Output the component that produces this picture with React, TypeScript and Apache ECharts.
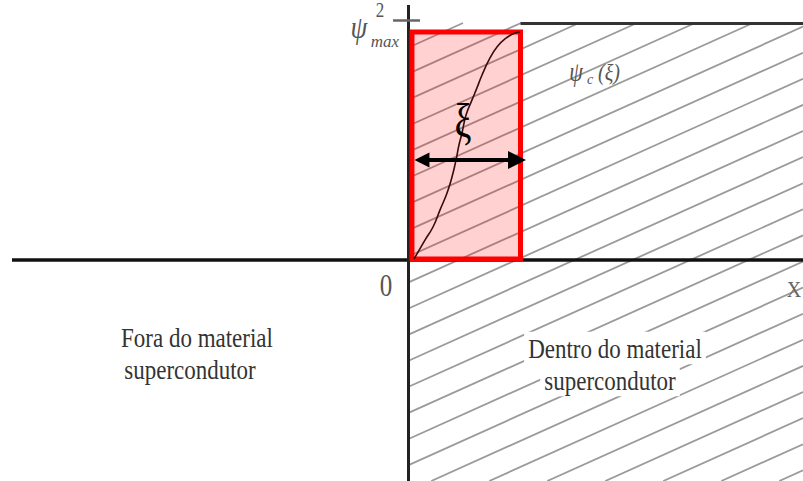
import React, { useEffect, useRef } from "react";
import * as echarts from "echarts";

// ---- coordinate frame: x in units of ξ, y in units of ψ²max ----
const X_MIN = -3.6267;
const X_MAX = 3.5111;
const Y_MIN = -0.9208;
const Y_MAX = 1.0833;

// Order-parameter curve ψ(x) inside the coherence length
const CURVE_X = [0.053, 0.089, 0.151, 0.222, 0.284, 0.347, 0.391, 0.427, 0.453, 0.48, 0.516, 0.569, 0.613, 0.658, 0.729, 0.791, 0.862, 0.951, 0.996];
const CURVE_Y = [0.004, 0.033, 0.083, 0.1375, 0.208, 0.279, 0.346, 0.417, 0.479, 0.529, 0.604, 0.667, 0.717, 0.771, 0.842, 0.8875, 0.921, 0.946, 0.95];

// Plateau of ψ beyond ξ
const PLATEAU_X = [1.0, 3.5111];
const PLATEAU_Y = 0.9875;

// Coherence-length box [x0, y0, x1, y1]
const XI_BOX = [0.035, 0.004, 1.0, 0.95];

// Double arrow marking ξ
const ARROW_X = [0.124, 0.969];
const ARROW_Y = 0.417;

// Axes
const H_AXIS_X = [-3.52, 3.5111];
const V_AXIS_Y = [Y_MIN, 1.0625];
const TICK_X = [-0.133, 0.107];
const TICK_Y = 1.0;

// Hatching of the superconducting region
const HATCH_SLOPE = 0.2109;
const HATCH_SPACING = 0.10875;
const HATCH_PHASE = -0.2031;
const HATCH_REGION = [0, Y_MIN, X_MAX, PLATEAU_Y]; // x0, y0, x1, y1

function hatchSegments() {
  const [hx0, hy0, hx1, hy1] = HATCH_REGION;
  const m = HATCH_SLOPE;
  const cMin = hy0 - m * hx1;
  const cMax = hy1 - m * hx0;
  const kMin = Math.floor((cMin - HATCH_PHASE) / HATCH_SPACING);
  const kMax = Math.ceil((cMax - HATCH_PHASE) / HATCH_SPACING);
  const segs: any[] = [];
  for (let k = kMin; k <= kMax; k++) {
    const c = HATCH_PHASE + k * HATCH_SPACING;
    const xs = Math.max(hx0, (hy0 - c) / m);
    const xe = Math.min(hx1, (hy1 - c) / m);
    if (xs < xe) {
      segs.push({ coords: [[xs, c + m * xs], [xe, c + m * xe]] });
    }
  }
  return segs;
}

const SERIF = "'Liberation Serif', 'Times New Roman', serif";

export default function App() {
  const ref = useRef<HTMLDivElement>(null);
  useEffect(() => {
    const chart = echarts.init(ref.current!, null, { renderer: "svg" });
    const lineSeg = (xa: number[], ya: number[]) => ({ coords: [[xa[0], ya[0]], [xa[1], ya[1]]] });
    const option: any = {
      animation: false,
      backgroundColor: "#ffffff",
      grid: { left: 0, right: 0, top: 0, bottom: 0 },
      xAxis: { type: "value", min: X_MIN, max: X_MAX, show: false },
      yAxis: { type: "value", min: Y_MIN, max: Y_MAX, show: false },
      series: [
        {
          type: "lines",
          coordinateSystem: "cartesian2d",
          silent: true,
          z: 1,
          lineStyle: { color: "#9a9a9a", width: 1.8, opacity: 1 },
          data: hatchSegments(),
        },
        {
          type: "lines",
          coordinateSystem: "cartesian2d",
          silent: true,
          z: 2,
          data: [
            { ...lineSeg(H_AXIS_X, [0, 0]), lineStyle: { color: "#111111", width: 3.5, opacity: 1 } },
            { ...lineSeg([0, 0], V_AXIS_Y), lineStyle: { color: "#222222", width: 3, opacity: 1 } },
            { ...lineSeg(TICK_X, [TICK_Y, TICK_Y]), lineStyle: { color: "#666666", width: 2.5, opacity: 1 } },
            { ...lineSeg(PLATEAU_X, [PLATEAU_Y, PLATEAU_Y]), lineStyle: { color: "#333333", width: 3, opacity: 1 } },
          ],
        },
        {
          type: "custom",
          silent: true,
          z: 3,
          data: [XI_BOX],
          encode: { x: [0, 2], y: [1, 3] },
          renderItem: (_p: any, api: any) => {
            const a = api.coord([api.value(0), api.value(3)]);
            const b = api.coord([api.value(2), api.value(1)]);
            return {
              type: "rect",
              shape: { x: a[0], y: a[1], width: b[0] - a[0], height: b[1] - a[1] },
              style: { fill: "rgba(255,0,0,0.18)", stroke: "#ff0000", lineWidth: 5 },
            };
          },
        },
        {
          type: "line",
          silent: true,
          z: 4,
          showSymbol: false,
          symbol: "none",
          smooth: true,
          lineStyle: { color: "#3a0c0c", width: 1.6 },
          data: CURVE_X.map((x, i) => [x, CURVE_Y[i]]),
        },
        {
          type: "lines",
          coordinateSystem: "cartesian2d",
          silent: true,
          z: 5,
          symbol: ["triangle", "triangle"],
          symbolSize: [15, 18],
          lineStyle: { color: "#000000", width: 4, opacity: 1 },
          itemStyle: { color: "#000000" },
          data: [lineSeg(ARROW_X, [ARROW_Y, ARROW_Y])],
        },
      ],
      graphic: [
        { type: "text", z: 100, x: 463, y: 121, scaleY: 1.3, style: { text: "ξ", fontFamily: SERIF, fontSize: 38, fill: "#000", align: "center", verticalAlign: "middle" } },
        { type: "text", z: 100, x: 359, y: 27, scaleY: 1.2, style: { text: "ψ", fontFamily: SERIF, fontStyle: "italic", fontSize: 27, fill: "#555", align: "center", verticalAlign: "middle" } },
        { type: "text", z: 100, x: 385, y: 41, style: { text: "max", fontFamily: SERIF, fontStyle: "italic", fontSize: 17, fill: "#555", align: "center", verticalAlign: "middle" } },
        { type: "text", z: 100, x: 380, y: 10, scaleY: 1.2, style: { text: "2", fontFamily: SERIF, fontSize: 17, fill: "#555", align: "center", verticalAlign: "middle" } },
        { type: "text", z: 100, x: 576, y: 72, scaleY: 1.2, style: { text: "ψ", fontFamily: SERIF, fontStyle: "italic", fontSize: 22, fill: "#555", align: "center", verticalAlign: "middle" } },
        { type: "text", z: 100, x: 590, y: 79, style: { text: "c", fontFamily: SERIF, fontStyle: "italic", fontSize: 14, fill: "#555", align: "center", verticalAlign: "middle" } },
        { type: "text", z: 100, x: 609, y: 72, scaleY: 1.2, style: { text: "(ξ)", fontFamily: SERIF, fontStyle: "italic", fontSize: 20, fill: "#555", align: "center", verticalAlign: "middle" } },
        { type: "text", z: 100, x: 386, y: 285, scaleY: 1.3, style: { text: "0", fontFamily: SERIF, fontSize: 25, fill: "#555", align: "center", verticalAlign: "middle" } },
        { type: "text", z: 100, x: 794, y: 289, scaleY: 1.2, style: { text: "X", fontFamily: SERIF, fontSize: 20, fill: "#666", align: "center", verticalAlign: "middle" } },
        { type: "text", z: 100, x: 197, y: 337, scaleY: 1.2, style: { text: "Fora do material", fontFamily: SERIF, fontSize: 23, fill: "#333", align: "center", verticalAlign: "middle" } },
        { type: "text", z: 100, x: 190, y: 369, scaleY: 1.2, style: { text: "supercondutor", fontFamily: SERIF, fontSize: 23, fill: "#333", align: "center", verticalAlign: "middle" } },
        { type: "text", z: 100, x: 615, y: 348, scaleY: 1.2, style: { text: "Dentro do material", fontFamily: SERIF, fontSize: 23, fill: "#333", align: "center", verticalAlign: "middle", backgroundColor: "#fff", padding: [2, 4] } },
        { type: "text", z: 100, x: 610, y: 380, scaleY: 1.2, style: { text: "supercondutor", fontFamily: SERIF, fontSize: 23, fill: "#333", align: "center", verticalAlign: "middle", backgroundColor: "#fff", padding: [2, 4] } },
      ],
    };
    chart.setOption(option);
    return () => chart.dispose();
  }, []);
  return (
    <div
      ref={ref}
      style={{ position: "absolute", left: 0, top: 0, width: 803, height: 481, background: "#fff" }}
    />
  );
}
